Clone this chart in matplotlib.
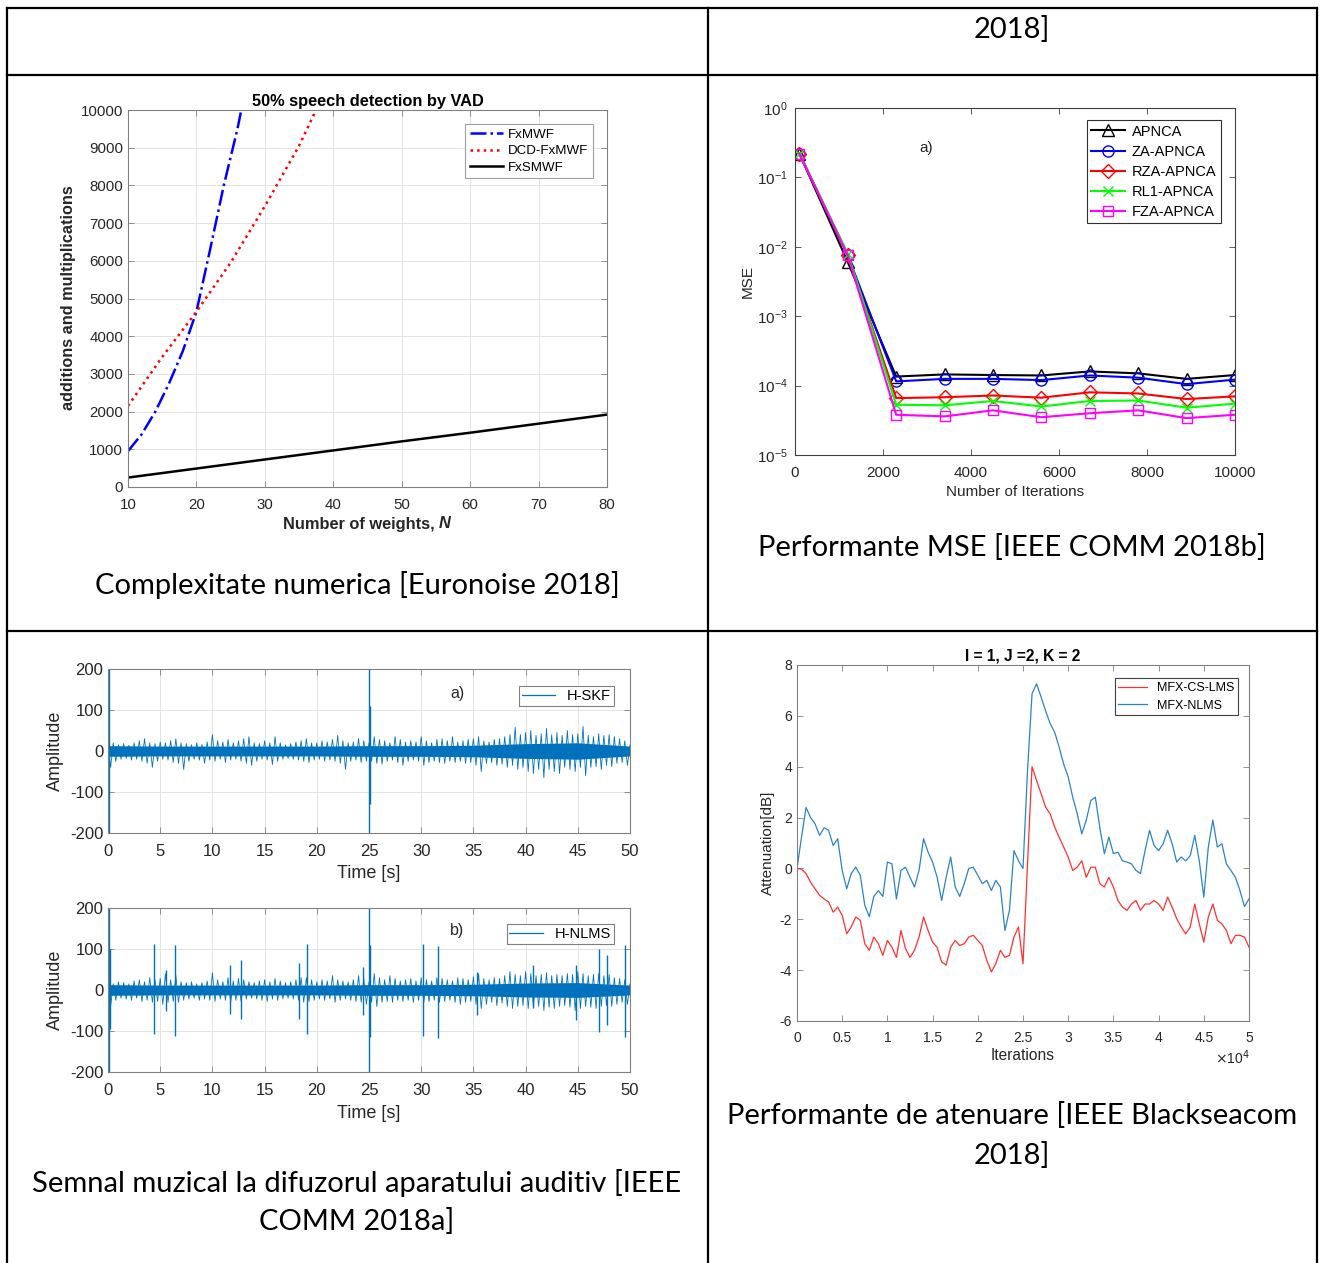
import matplotlib
matplotlib.use('Agg')
import matplotlib.pyplot as plt
import numpy as np
from matplotlib.lines import Line2D
from matplotlib.ticker import FuncFormatter

W, H = 1322, 1263
plt.rcParams['font.family'] = ['Liberation Sans', 'DejaVu Sans']
plt.rcParams['axes.unicode_minus'] = False

# ---------------- date: panoul 1 (complexitate) ----------------
n_fxmwf = [10, 12, 14, 16, 18, 20, 22, 24, 26, 27]
v_fxmwf = [950, 1400, 2000, 2750, 3600, 4650, 6300, 8000, 9500, 10400]
n_dcd = [10, 15, 20, 25, 30, 35, 38]
v_dcd = [2150, 3450, 4650, 5950, 7450, 9050, 10200]
n_fxs = [10, 20, 30, 40, 50, 60, 70, 80]
v_fxs = [250, 490, 730, 970, 1210, 1440, 1680, 1920]

# ---------------- date: panoul 2 (MSE) ----------------
it_mse = [100, 1200, 2300, 3400, 4500, 5600, 6700, 7800, 8900, 10000]
mse_apnca = [0.22, 0.006, 1.35e-4, 1.45e-4, 1.42e-4, 1.4e-4, 1.6e-4, 1.5e-4, 1.25e-4, 1.42e-4]
mse_za = [0.22, 0.0075, 1.15e-4, 1.25e-4, 1.25e-4, 1.2e-4, 1.4e-4, 1.3e-4, 1.05e-4, 1.22e-4]
mse_rza = [0.22, 0.0075, 6.6e-5, 6.8e-5, 7.2e-5, 6.7e-5, 8e-5, 7.7e-5, 6.4e-5, 7e-5]
mse_rl1 = [0.22, 0.008, 5.3e-5, 5.2e-5, 6e-5, 5e-5, 6e-5, 6.1e-5, 4.8e-5, 5.5e-5]
mse_fza = [0.22, 0.0075, 3.8e-5, 3.6e-5, 4.4e-5, 3.5e-5, 4e-5, 4.4e-5, 3.4e-5, 3.8e-5]

# ---------------- date: panoul 3 (semnal muzical) ----------------
t_env = np.arange(0, 50.01, 0.5)
hi_a = [15, 20, 15, 18, 14, 20, 25, 30, 20, 18, 22, 20, 25, 30, 20, 18, 15, 20, 16, 22,
        40, 25, 22, 28, 20, 25, 30, 35, 20, 18, 25, 20, 35, 20, 15, 18, 22, 25, 30, 20,
        20, 25, 22, 28, 38, 25, 20, 22, 30, 25, 20, 35, 28, 25, 20, 35, 28, 22, 25, 22,
        35, 25, 20, 28, 30, 25, 35, 22, 25, 28, 30, 35, 25, 22, 28, 30, 35, 40, 58, 40,
        45, 50, 38, 42, 55, 40, 45, 38, 50, 40, 42, 60, 38, 35, 42, 38, 40, 35, 30, 25, 15]
lo_a = [-40, -25, -20, -18, -22, -20, -25, -30, -40, -25, -20, -22, -28, -30, -45, -25, -20, -22, -30, -22,
        -25, -20, -28, -22, -20, -25, -30, -35, -25, -20, -22, -33, -25, -20, -18, -20, -22, -25, -28, -22,
        -20, -25, -22, -25, -30, -45, -25, -22, -28, -25, -25, -30, -32, -25, -22, -28, -35, -25, -22, -25,
        -35, -28, -25, -28, -30, -25, -28, -25, -30, -28, -35, -50, -30, -28, -35, -32, -40, -35, -45, -40,
        -50, -55, -45, -65, -45, -50, -55, -40, -45, -50, -40, -60, -40, -38, -45, -35, -38, -30, -28, -35, -20]
t_core = [0, 5, 10, 15, 20, 25, 30, 35, 40, 45, 50]
core_a = [13, 12, 12, 12, 12, 13, 13, 14, 18, 20, 12]
spike_t_a = [0.05, 25.0, 25.1]
spike_hi_a = [200, 200, 110]
spike_lo_a = [-200, -200, -130]

hi_b = [20, 15, 20, 18, 15, 22, 25, 20, 30, 25, 28, 40, 25, 35, 20, 18, 20, 15, 18, 22,
        42, 25, 20, 30, 22, 28, 25, 20, 18, 22, 25, 20, 28, 22, 18, 20, 25, 30, 30, 25,
        20, 25, 22, 35, 25, 22, 20, 25, 35, 28, 20, 40, 30, 25, 35, 28, 22, 25, 28, 22,
        30, 25, 22, 30, 28, 25, 22, 30, 28, 25, 32, 40, 28, 25, 30, 28, 35, 45, 38, 35,
        45, 40, 35, 38, 42, 35, 38, 35, 40, 38, 45, 40, 35, 38, 40, 35, 38, 30, 28, 25, 15]
lo_b = [-40, -25, -20, -22, -25, -20, -28, -25, -30, -28, -35, -30, -28, -30, -25, -22, -20, -25, -22, -25,
        -28, -22, -25, -30, -25, -28, -22, -20, -22, -25, -28, -22, -25, -22, -20, -22, -25, -30, -28, -25,
        -22, -25, -22, -30, -25, -22, -25, -28, -30, -35, -30, -40, -30, -28, -30, -25, -28, -25, -30, -25,
        -30, -28, -25, -30, -28, -25, -30, -35, -30, -28, -35, -45, -35, -30, -38, -32, -40, -45, -40, -38,
        -45, -42, -40, -50, -42, -45, -40, -38, -42, -50, -45, -40, -42, -45, -40, -38, -40, -35, -30, -35, -20]
core_b = [13, 12, 12, 12, 12, 13, 13, 14, 17, 18, 12]
spike_t_b = [0.05, 0.2, 4.4, 5.6, 6.4, 11.7, 12.7, 18.3, 19.1, 24.4, 25.0, 25.1,
             30.2, 31.6, 35.3, 40.7, 44.8, 47.0, 47.8, 49.5]
spike_hi_b = [200, 100, 113, 48, 110, 62, 72, 65, 113, 55, 200, 110,
              113, 108, 45, 60, 62, 100, 85, 110]
spike_lo_b = [-200, -95, -108, -50, -113, -58, -70, -70, -107, -62, -200, -115,
              -112, -117, -60, -45, -72, -103, -85, -115]

# ---------------- date: panoul 4 (atenuare) ----------------
iters = np.arange(0, 50001, 500)
att_cs = [0, -0.03, -0.2, -0.54, -0.8, -1.06, -1.2, -1.32, -1.72, -1.52,
          -1.85, -2.57, -2.3, -1.91, -2.04, -2.96, -3.22, -2.7, -2.96, -3.42,
          -2.83, -3.1, -3.5, -2.44, -3.15, -3.5, -3.22, -2.7, -1.91, -2.44,
          -2.9, -3.1, -3.68, -3.8, -3.1, -2.83, -3.03, -2.96, -2.7, -2.63,
          -2.83, -3.03, -3.62, -4.07, -3.74, -3.22, -3.5, -3.42, -2.7, -2.3,
          -3.75, 0.18, 4.0, 3.46, 2.94, 2.41, 2.15, 1.63, 1.23, 0.84,
          0.45, -0.08, 0.05, 0.3, -0.35, 0.05, 0.05, -0.6, -0.73, -0.35,
          -0.73, -1.26, -1.52, -1.65, -1.4, -1.26, -1.65, -1.4, -1.4, -1.26,
          -1.4, -1.65, -1.13, -1.52, -1.98, -2.3, -2.57, -2.3, -1.4, -2.18,
          -2.9, -1.91, -1.4, -2.04, -2.18, -2.44, -2.96, -2.63, -2.63, -2.7, -3.1]
att_nlms = [0, 1.23, 2.4, 2.0, 1.75, 1.3, 1.6, 1.5, 0.9, 1.17,
            -0.08, -0.8, -0.2, 0.05, -0.27, -1.45, -1.9, -1.1, -0.87, -1.1,
            0.25, 0.18, -1.2, -0.08, 0.05, -0.35, -0.73, -0.08, 1.17, 0.64,
            0.25, -0.35, -1.26, -0.35, 0.45, -0.73, -1.1, -0.6, 0.0, 0.05,
            -0.27, -0.6, -0.47, -0.87, -0.47, -0.73, -2.44, -1.65, 0.7, 0.3,
            0.0, 3.85, 6.87, 7.26, 6.74, 6.2, 5.7, 5.36, 4.77, 4.1,
            3.6, 2.8, 2.15, 1.36, 1.9, 2.67, 2.8, 1.6, 0.58, 1.23,
            0.58, 0.64, 0.3, 0.25, 0.18, -0.08, -0.2, 0.7, 1.5, 0.9,
            0.7, 0.97, 1.5, 0.97, 0.25, 0.45, 0.3, 0.5, 1.3, 0.3,
            -1.13, 0.84, 1.9, 0.84, 0.97, 0.18, -0.08, -0.35, -0.87, -1.5, -1.2]

captions = ['Complexitate numerica [Euronoise 2018]',
            'Performante MSE [IEEE COMM 2018b]',
            'Semnal muzical la difuzorul aparatului auditiv [IEEE',
            'COMM 2018a]',
            'Performante de atenuare [IEEE Blackseacom',
            '2018]']

TXT = '#262626'
MBLUE = '#0072bd'


def rect(l, t, r, b):
    return [l / W, 1 - b / H, (r - l) / W, (b - t) / H]


def fx(px):
    return px / W


def fy(py):
    return 1 - py / H


fig = plt.figure(figsize=(W / 100, H / 100), dpi=100)

# linii tabel
for y in [8, 75, 631]:
    fig.add_artist(Line2D([fx(7), fx(1317)], [fy(y), fy(y)], color='black', lw=1.6))
for x in [7, 708, 1317]:
    fig.add_artist(Line2D([fx(x), fx(x)], [fy(8), fy(1263)], color='black', lw=1.6))

cap_font = dict(family=['Lato', 'DejaVu Sans'], fontsize=21, color='black', ha='center', va='center')
fig.text(fx(1012), fy(30), '2018]', **cap_font)
fig.text(fx(357), fy(585), captions[0], **cap_font)
fig.text(fx(1012), fy(547), captions[1], **cap_font)
fig.text(fx(357), fy(1183), captions[2], **cap_font)
fig.text(fx(357), fy(1221), captions[3], **cap_font)
fig.text(fx(1012), fy(1116), captions[4], **cap_font)
fig.text(fx(1012), fy(1155), captions[5], **cap_font)


def matlab_axes(ax, edge='#808080', fs=10, pad=7):
    for s in ax.spines.values():
        s.set_color(edge)
        s.set_linewidth(0.8)
    ax.tick_params(direction='in', top=True, right=True, colors=edge,
                   labelcolor=TXT, labelsize=fs, length=4, width=0.6)
    ax.tick_params(axis='x', pad=pad)
    ax.set_axisbelow(True)


# ---------------- panoul 1 ----------------
ax1 = fig.add_axes(rect(128, 110, 607, 487))
ax1.plot(n_fxmwf, v_fxmwf, '-.', color='#0000ff', lw=1.8, label='FxMWF')
ax1.plot(n_dcd, v_dcd, ':', color='#ff0000', lw=1.8, label='DCD-FxMWF')
ax1.plot(n_fxs, v_fxs, '-', color='black', lw=1.8, label='FxSMWF')
ax1.set_xlim(10, 80)
ax1.set_ylim(0, 10000)
ax1.set_xticks(range(10, 81, 10))
ax1.set_yticks(range(0, 10001, 1000))
ax1.grid(True, color='#e3e3e3', lw=0.7)
matlab_axes(ax1, fs=10.8, pad=8)
ax1.set_title('50% speech detection by VAD', fontsize=11.8, fontweight='bold', color='black', pad=3)
fig.text(fx(68), fy(298), 'additions and multiplications', rotation=90, fontsize=11.7,
         fontweight='bold', color=TXT, ha='center', va='center')
fig.text(fx(439), fy(524), 'Number of weights, ', fontsize=11.8, fontweight='bold', color=TXT,
         ha='right', va='center')
fig.text(fx(439), fy(524), 'N', fontsize=11.8, fontweight='bold', style='italic', color=TXT,
         ha='left', va='center')
leg = ax1.legend(loc='upper right', bbox_to_anchor=(0.971, 0.963), fontsize=9.6, fancybox=False,
                 edgecolor='#a0a0a0', framealpha=1, handlelength=2.5, borderpad=0.35,
                 labelspacing=0.3, borderaxespad=0, handletextpad=0.4)
leg.get_frame().set_linewidth(0.8)

# ---------------- panoul 2 ----------------
ax2 = fig.add_axes(rect(795, 108, 1235, 455))
ax2.semilogy(it_mse, mse_apnca, '-^', color='black', mfc='none', ms=8, lw=1.5, label='APNCA')
ax2.semilogy(it_mse, mse_za, '-o', color='#0000ff', mfc='none', ms=8, lw=1.5, label='ZA-APNCA')
ax2.semilogy(it_mse, mse_rza, '-D', color='#ff0000', mfc='none', ms=7, lw=1.5, label='RZA-APNCA')
ax2.semilogy(it_mse, mse_rl1, '-x', color='#00ff00', ms=7, lw=1.5, label='RL1-APNCA')
ax2.semilogy(it_mse, mse_fza, '-s', color='#ff00ff', mfc='none', ms=7, lw=1.5, label='FZA-APNCA')
ax2.set_xlim(0, 10000)
ax2.set_ylim(1e-5, 1)
ax2.set_xticks(range(0, 10001, 2000))
ax2.minorticks_off()
ax2.set_yticks([1e-5, 1e-4, 1e-3, 1e-2, 1e-1, 1])
matlab_axes(ax2, edge='#404040', fs=11, pad=8)
ax2.tick_params(axis='y', pad=5)
ax2.text(0.298, 0.885, 'a)', transform=ax2.transAxes, fontsize=11, color=TXT, ha='center', va='center')
fig.text(fx(1015), fy(492), 'Number of Iterations', fontsize=11, color=TXT, ha='center', va='center')
fig.text(fx(748), fy(282), 'MSE', rotation=90, fontsize=11, color=TXT, ha='center', va='center')
leg = ax2.legend(loc='upper right', bbox_to_anchor=(0.968, 0.965), fontsize=10.5, fancybox=False,
                 edgecolor='#303030', framealpha=1, handlelength=2.3, borderpad=0.3,
                 labelspacing=0.42, borderaxespad=0, handletextpad=0.5)
leg.get_frame().set_linewidth(0.8)

# ---------------- panoul 3 ----------------
def audio_panel(ax, hi, lo, core, st, sh, sl, name, tag, tag_y, leg_y):
    tt = np.ravel(np.column_stack([t_env, t_env + 0.25]))
    yy = np.ravel(np.column_stack([hi, lo]))
    ax.fill_between(t_core, [-c for c in core], core, color=MBLUE, lw=0, zorder=2)
    ax.plot(tt, yy, color=MBLUE, lw=0.6, zorder=2)
    ax.vlines(st, sl, sh, color=MBLUE, lw=1.0, zorder=2)
    ax.set_xlim(0, 50)
    ax.set_ylim(-200, 200)
    ax.set_xticks(range(0, 51, 5))
    ax.set_yticks([-200, -100, 0, 100, 200])
    ax.grid(True, color='#e3e3e3', lw=0.7)
    matlab_axes(ax, fs=12, pad=8)
    ax.text(0.669, tag_y, tag, transform=ax.transAxes, fontsize=11.5, color=TXT, ha='center', va='center')
    h = Line2D([], [], color=MBLUE, lw=0.9)
    lg = ax.legend([h], [name], loc='upper right', bbox_to_anchor=(0.969, leg_y), fontsize=10.5,
                   fancybox=False, edgecolor='#808080', framealpha=1, handlelength=2.3,
                   borderpad=0.2, borderaxespad=0)
    lg.get_frame().set_linewidth(0.8)


ax3a = fig.add_axes(rect(108, 669, 630, 833))
audio_panel(ax3a, hi_a, lo_a, core_a, spike_t_a, spike_hi_a, spike_lo_a, 'H-SKF', 'a)', 0.848, 0.896)
ax3b = fig.add_axes(rect(108, 908, 630, 1072))
audio_panel(ax3b, hi_b, lo_b, core_b, spike_t_b, spike_hi_b, spike_lo_b, 'H-NLMS', 'b)', 0.86, 0.902)
for yl in [874, 1113]:
    fig.text(fx(369), fy(yl), 'Time [s]', fontsize=13, color=TXT, ha='center', va='center')
for yc in [751, 990]:
    fig.text(fx(55), fy(yc), 'Amplitude', rotation=90, fontsize=13, color=TXT, ha='center', va='center')

# ---------------- panoul 4 ----------------
ax4 = fig.add_axes(rect(797, 665, 1249, 1021))
ax4.plot(iters, att_cs, color='#ff3030', lw=0.9, label='MFX-CS-LMS')
ax4.plot(iters, att_nlms, color='#2a84c8', lw=0.9, label='MFX-NLMS')
ax4.set_xlim(0, 50000)
ax4.set_ylim(-6, 8)
ax4.set_xticks(range(0, 50001, 5000))
ax4.xaxis.set_major_formatter(FuncFormatter(lambda v, p: f'{v / 1e4:g}'))
ax4.set_yticks(range(-6, 9, 2))
matlab_axes(ax4, fs=10, pad=7)
ax4.set_title('I = 1, J =2, K = 2', fontsize=11.2, fontweight='bold', color='black', pad=3)
fig.text(fx(1023), fy(1056), 'Iterations', fontsize=11.2, color=TXT, ha='center', va='center')
fig.text(fx(1232), fy(1058), r'$\times$10$^4$', fontsize=10, color=TXT, ha='center', va='center')
fig.text(fx(768), fy(843), 'Attenuation[dB]', rotation=90, fontsize=11, color=TXT, ha='center', va='center')
leg = ax4.legend(loc='upper right', bbox_to_anchor=(0.976, 0.963), fontsize=9, fancybox=False,
                 edgecolor='#404040', framealpha=1, handlelength=2.3, borderpad=0.3,
                 labelspacing=0.45, borderaxespad=0)
leg.get_frame().set_linewidth(0.8)

fig.savefig('out.png', dpi=100)
